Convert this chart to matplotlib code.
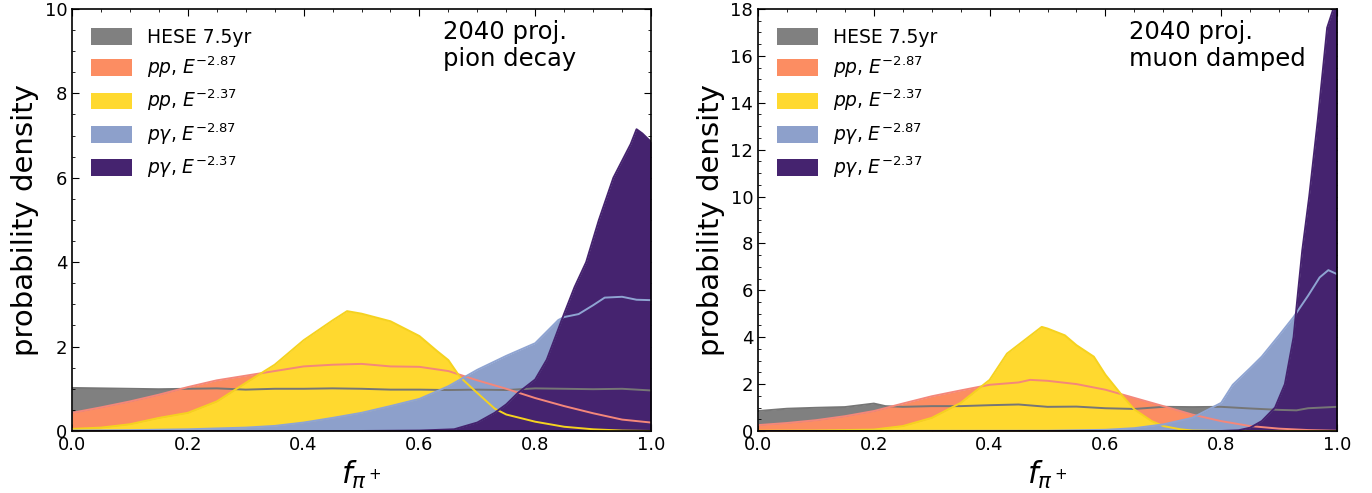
"""Posterior of f_pi+ : 2040 projection, pion decay vs muon damped."""
import matplotlib
matplotlib.use("Agg")
import matplotlib.pyplot as plt
from matplotlib.ticker import MultipleLocator

# ---- panel 1: pion decay ----
pd_gray_x = [0, 0.05, 0.1, 0.15, 0.2, 0.25, 0.3, 0.35, 0.4, 0.45, 0.5, 0.55, 0.6, 0.65, 0.7, 0.75, 0.8, 0.85, 0.9, 0.95, 1.0]
pd_gray_y = [1.02, 1.01, 1.0, 0.99, 1.0, 1.01, 0.98, 1.0, 1.0, 1.01, 1.0, 0.98, 0.98, 0.97, 0.98, 0.97, 1.01, 1.0, 0.99, 1.0, 0.96]

pd_orange_x = [0, 0.05, 0.1, 0.15, 0.2, 0.25, 0.3, 0.35, 0.4, 0.45, 0.5, 0.55, 0.6, 0.65, 0.7, 0.75, 0.8, 0.85, 0.9, 0.95, 1.0]
pd_orange_y = [0.43, 0.56, 0.7, 0.86, 1.04, 1.2, 1.31, 1.42, 1.53, 1.57, 1.59, 1.53, 1.52, 1.42, 1.2, 1.0, 0.78, 0.59, 0.42, 0.27, 0.2]

pd_yellow_x = [0, 0.05, 0.1, 0.15, 0.2, 0.25, 0.3, 0.35, 0.4, 0.45, 0.475, 0.5, 0.55, 0.6, 0.63, 0.65, 0.67, 0.7, 0.73, 0.75, 0.8, 0.85, 0.9, 0.95, 1.0]
pd_yellow_y = [0.05, 0.08, 0.16, 0.31, 0.43, 0.7, 1.14, 1.57, 2.15, 2.62, 2.84, 2.78, 2.6, 2.25, 1.9, 1.68, 1.28, 0.9, 0.53, 0.39, 0.22, 0.1, 0.04, 0.01, 0.0]

pd_blue_x = [0, 0.1, 0.2, 0.3, 0.35, 0.4, 0.45, 0.5, 0.55, 0.6, 0.65, 0.7, 0.75, 0.8, 0.84, 0.85, 0.875, 0.9, 0.92, 0.95, 0.975, 1.0]
pd_blue_y = [0.01, 0.02, 0.04, 0.08, 0.12, 0.2, 0.31, 0.43, 0.59, 0.76, 1.06, 1.45, 1.78, 2.08, 2.63, 2.7, 2.77, 2.98, 3.16, 3.18, 3.11, 3.1]

pd_purple_x = [0, 0.5, 0.6, 0.66, 0.7, 0.73, 0.75, 0.77, 0.8, 0.82, 0.833, 0.85, 0.868, 0.888, 0.91, 0.935, 0.95, 0.965, 0.975, 0.985, 1.0]
pd_purple_y = [0, 0.0, 0.01, 0.04, 0.2, 0.43, 0.63, 0.9, 1.22, 1.69, 2.16, 2.78, 3.41, 4.0, 5.0, 6.0, 6.4, 6.8, 7.15, 7.05, 6.85]

# ---- panel 2: muon damped ----
md_gray_x = [0, 0.05, 0.1, 0.15, 0.2, 0.22, 0.25, 0.3, 0.35, 0.4, 0.45, 0.5, 0.55, 0.6, 0.65, 0.7, 0.75, 0.8, 0.85, 0.9, 0.93, 0.95, 1.0]
md_gray_y = [0.85, 0.95, 0.99, 1.02, 1.17, 1.06, 1.03, 1.06, 1.06, 1.1, 1.13, 1.03, 1.04, 0.97, 0.94, 1.03, 1.02, 1.03, 0.96, 0.9, 0.88, 0.97, 1.03]

md_orange_x = [0, 0.05, 0.1, 0.15, 0.2, 0.25, 0.3, 0.35, 0.4, 0.45, 0.47, 0.5, 0.55, 0.6, 0.65, 0.7, 0.75, 0.8, 0.85, 0.9, 0.95, 1.0]
md_orange_y = [0.25, 0.34, 0.46, 0.63, 0.85, 1.17, 1.48, 1.73, 1.97, 2.07, 2.18, 2.14, 2.0, 1.76, 1.41, 1.06, 0.7, 0.42, 0.21, 0.1, 0.04, 0.01]

md_yellow_x = [0, 0.1, 0.2, 0.25, 0.3, 0.35, 0.4, 0.43, 0.46, 0.49, 0.5, 0.53, 0.55, 0.58, 0.6, 0.63, 0.65, 0.68, 0.7, 0.73, 0.75, 0.8, 1.0]
md_yellow_y = [0.01, 0.02, 0.06, 0.21, 0.56, 1.2, 2.18, 3.3, 3.87, 4.44, 4.37, 4.08, 3.66, 3.17, 2.4, 1.48, 0.92, 0.42, 0.21, 0.07, 0.02, 0.0, 0.0]

md_blue_x = [0, 0.5, 0.6, 0.65, 0.7, 0.75, 0.8, 0.82, 0.85, 0.87, 0.9, 0.925, 0.95, 0.97, 0.985, 1.0]
md_blue_y = [0, 0.01, 0.05, 0.12, 0.28, 0.56, 1.2, 1.97, 2.68, 3.17, 4.08, 4.86, 5.77, 6.55, 6.86, 6.69]

md_purple_x = [0, 0.8, 0.83, 0.85, 0.87, 0.893, 0.91, 0.925, 0.933, 0.94, 0.952, 0.967, 0.983, 0.993, 1.0]
md_purple_y = [0, 0.0, 0.03, 0.14, 0.42, 1.0, 2.0, 4.0, 6.0, 7.7, 10.0, 13.3, 17.2, 17.95, 18.3]

labels = ["HESE 7.5yr", r"$pp$, $E^{-2.87}$", r"$pp$, $E^{-2.37}$",
          r"$p\gamma$, $E^{-2.87}$", r"$p\gamma$, $E^{-2.37}$"]
fill_colors = ["#808080", "#fc8d62", "#ffd92f", "#8da0cb", "#45236f"]
line_colors = ["#767676", "#f4877a", "#f5d21f", "#8fa4d2", "#45236f"]

panels = [
    ("2040 proj.\npion decay", 10,
     [(pd_gray_x, pd_gray_y), (pd_orange_x, pd_orange_y), (pd_yellow_x, pd_yellow_y),
      (pd_blue_x, pd_blue_y), (pd_purple_x, pd_purple_y)]),
    ("2040 proj.\nmuon damped", 18,
     [(md_gray_x, md_gray_y), (md_orange_x, md_orange_y), (md_yellow_x, md_yellow_y),
      (md_blue_x, md_blue_y), (md_purple_x, md_purple_y)]),
]

fig = plt.figure(figsize=(13.72, 4.93), dpi=100)
lefts = [0.0525, 0.5525]

for left, (note, ymax, series) in zip(lefts, panels):
    ax = fig.add_axes([left, 0.1258, 0.422, 0.856])
    for i, ((x, y), lab) in enumerate(zip(series, labels)):
        ax.fill_between(x, 0, y, color=fill_colors[i], lw=0, label=lab, zorder=1 + i)
    for i, (x, y) in enumerate(series):
        ax.plot(x, y, color=line_colors[i], lw=1.4, zorder=10)
    ax.set_xlim(0, 1)
    ax.set_ylim(0, ymax)
    ax.xaxis.set_major_locator(MultipleLocator(0.2))
    ax.xaxis.set_minor_locator(MultipleLocator(0.05))
    ax.yaxis.set_major_locator(MultipleLocator(2))
    ax.yaxis.set_minor_locator(MultipleLocator(0.5))
    ax.tick_params(which="both", direction="in", top=True, right=True, labelsize=13)
    ax.tick_params(which="major", length=5)
    ax.tick_params(which="minor", length=2.5)
    for sp in ax.spines.values():
        sp.set_linewidth(1.2)
        sp.set_zorder(20)
    ax.set_xlabel(r"$f_{\pi^+}$", fontsize=22)
    ax.set_ylabel("probability density", fontsize=21)
    ax.legend(loc="upper left", frameon=False, fontsize=13.5, handlelength=2.2,
              handleheight=1.0, labelspacing=0.42, borderaxespad=0.6)
    ax.text(0.64, 0.975, note, transform=ax.transAxes, ha="left", va="top", fontsize=17.5)

fig.savefig("out.png", dpi=100)
